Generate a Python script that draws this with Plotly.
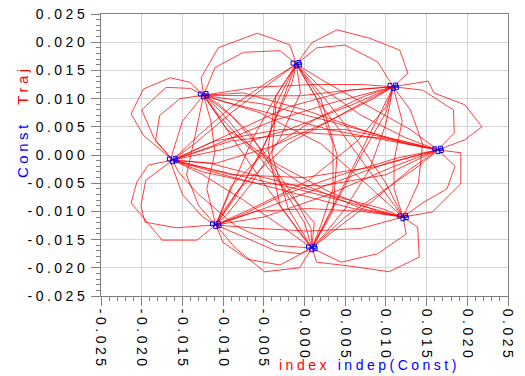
import plotly.graph_objects as go

# Ideal constellation points (symbol index 0..7)
const_x = [0.0164, 0.0109, -0.0010, -0.0124, -0.0162, -0.0109, 0.0009, 0.0121]
const_y = [0.0009, 0.0121, 0.0161, 0.0106, -0.0009, -0.0124, -0.0165, -0.0110]

# Received constellation samples (clusters around each symbol)
const_pts_x = [0.0160, 0.0167, 0.0164, 0.0168,
               0.0105, 0.0112, 0.0109, 0.0113,
               -0.0014, -0.0007, -0.0010, -0.0006,
               -0.0128, -0.0121, -0.0124, -0.0120,
               -0.0166, -0.0159, -0.0162, -0.0158,
               -0.0113, -0.0106, -0.0109, -0.0105,
               0.0005, 0.0012, 0.0009, 0.0013,
               0.0117, 0.0124, 0.0121, 0.0125]
const_pts_y = [0.0011, 0.0012, 0.0006, 0.0008,
               0.0123, 0.0124, 0.0118, 0.0120,
               0.0163, 0.0164, 0.0158, 0.0160,
               0.0108, 0.0109, 0.0103, 0.0105,
               -0.0007, -0.0006, -0.0012, -0.0010,
               -0.0122, -0.0121, -0.0127, -0.0125,
               -0.0163, -0.0162, -0.0168, -0.0166,
               -0.0108, -0.0107, -0.0113, -0.0111]

# Symbol sequence of the trajectory
symbols = [4, 3, 2, 1, 0, 7, 6, 3, 6, 2, 5, 6, 1, 4, 0, 5, 4, 1, 5, 2, 7, 3, 4, 5,
           0, 1, 2, 6, 7, 4, 3, 5, 6, 2, 3, 0, 4, 7, 1, 6, 5, 3, 1, 7, 0, 2, 4,
           1, 3, 6, 0, 3, 7, 5, 1, 4, 2, 0, 6, 4, 7, 2, 5, 7, 3, 0, 5, 1, 6, 3,
           5, 2, 6, 4, 0, 4]

# Trajectory samples between consecutive symbols
via_x = [
    [-0.0198, -0.0213, -0.0198, -0.0165, -0.0141],
    [-0.0127, -0.0106, -0.0058, -0.0040, -0.0018],
    [0.0009, 0.0040, 0.0080, 0.0117, 0.0127],
    [0.0152, 0.0159, 0.0197, 0.0218, 0.0197],
    [0.0192, 0.0192, 0.0157],
    [0.0139, 0.0141, 0.0104, 0.0056, 0.0015],
    [0.0012, -0.0026, -0.0067, -0.0105],
    [-0.0090, -0.0050, -0.0015, 0.0008],
    [0.0035, 0.0040, 0.0020],
    [-0.0025, -0.0045, -0.0075, -0.0100],
    [-0.0085, -0.0049, -0.0006],
    [0.0035, 0.0070, 0.0100],
    [0.0040, -0.0040, -0.0115],
    [-0.0090, 0.0000, 0.0090],
    [0.0100, 0.0025, -0.0050],
    [-0.0132, -0.0175, -0.0213, -0.0206, -0.0192],
    [-0.0100, -0.0020, 0.0060],
    [0.0055, -0.0020, -0.0080],
    [-0.0090, -0.0065, -0.0035],
    [0.0015, 0.0055, 0.0095],
    [0.0075, 0.0020, -0.0055],
    [-0.0153, -0.0178, -0.0183],
    [-0.0195, -0.0201, -0.0196, -0.0158],
    [-0.0050, 0.0030, 0.0110],
    [0.0184, 0.0183, 0.0145],
    [0.0090, 0.0050, 0.0015],
    [-0.0035, -0.0040, -0.0020],
    [0.0045, 0.0090, 0.0125],
    [0.0060, -0.0020, -0.0100],
    [-0.0185, -0.0200, -0.0170, -0.0140],
    [-0.0135, -0.0145, -0.0130],
    [-0.0075, -0.0035, -0.0005],
    [-0.0030, -0.0045, -0.0035],
    [-0.0030, -0.0075, -0.0110],
    [-0.0050, 0.0030, 0.0105],
    [0.0095, 0.0000, -0.0090],
    [-0.0100, -0.0010, 0.0070],
    [0.0140, 0.0145, 0.0130],
    [0.0090, 0.0060, 0.0030],
    [-0.0030, -0.0070, -0.0100],
    [-0.0120, -0.0110, -0.0115],
    [-0.0060, 0.0010, 0.0070],
    [0.0120, 0.0110, 0.0110],
    [0.0145, 0.0175, 0.0185],
    [0.0130, 0.0075, 0.0025],
    [-0.0040, -0.0090, -0.0135],
    [-0.0110, -0.0040, 0.0030, 0.0085],
    [0.0055, -0.0005, -0.0065],
    [-0.0100, -0.0065, -0.0030, -0.0005],
    [0.0050, 0.0095, 0.0140],
    [0.0105, 0.0030, -0.0045, -0.0100],
    [-0.0095, -0.0035, 0.0030, 0.0090],
    [0.0070, 0.0005, -0.0060],
    [-0.0065, 0.0005, 0.0065, 0.0100],
    [0.0055, -0.0020, -0.0095, -0.0140],
    [-0.0130, -0.0090, -0.0045],
    [0.0020, 0.0070, 0.0125],
    [0.0130, 0.0085, 0.0040],
    [-0.0025, -0.0075, -0.0125],
    [-0.0115, -0.0035, 0.0045, 0.0095],
    [0.0100, 0.0065, 0.0025],
    [-0.0005, -0.0030, -0.0065, -0.0095],
    [-0.0060, 0.0005, 0.0070],
    [0.0070, -0.0005, -0.0070, -0.0105],
    [-0.0075, 0.0000, 0.0070, 0.0125],
    [0.0115, 0.0045, -0.0025, -0.0075],
    [-0.0090, -0.0045, 0.0015, 0.0075],
    [0.0100, 0.0080, 0.0050, 0.0025],
    [0.0000, -0.0035, -0.0075, -0.0105],
    [-0.0150, -0.0165, -0.0150, -0.0125],
    [-0.0085, -0.0055, -0.0030, -0.0015],
    [0.0015, 0.0035, 0.0035, 0.0020],
    [-0.0035, -0.0085, -0.0130, -0.0155],
    [-0.0110, -0.0030, 0.0050, 0.0120],
    [0.0100, 0.0020, -0.0060, -0.0125],
]
via_y = [
    [0.0035, 0.0073, 0.0117, 0.0137, 0.0129],
    [0.0137, 0.0190, 0.0216, 0.0207, 0.0195],
    [0.0199, 0.0222, 0.0207, 0.0186, 0.0145],
    [0.0131, 0.0110, 0.0089, 0.0050, 0.0027],
    [0.0004, -0.0051, -0.0101],
    [-0.0128, -0.0181, -0.0207, -0.0197, -0.0190],
    [-0.0120, -0.0057, 0.0039, 0.0090],
    [0.0070, 0.0005, -0.0070, -0.0130],
    [-0.0100, 0.0000, 0.0100],
    [0.0105, 0.0030, -0.0050, -0.0100],
    [-0.0165, -0.0207, -0.0200],
    [-0.0095, 0.0000, 0.0075],
    [0.0095, 0.0060, 0.0015],
    [-0.0035, -0.0040, -0.0020],
    [-0.0015, -0.0055, -0.0095],
    [-0.0151, -0.0151, -0.0085, -0.0048, -0.0018],
    [0.0010, 0.0045, 0.0090],
    [0.0080, 0.0020, -0.0060],
    [-0.0060, 0.0025, 0.0105],
    [0.0100, 0.0020, -0.0060],
    [-0.0050, 0.0020, 0.0075],
    [0.0100, 0.0070, 0.0025],
    [-0.0045, -0.0090, -0.0119, -0.0129],
    [-0.0110, -0.0070, -0.0020],
    [0.0039, 0.0080, 0.0115],
    [0.0165, 0.0195, 0.0190],
    [0.0090, 0.0000, -0.0095],
    [-0.0190, -0.0175, -0.0140],
    [-0.0095, -0.0065, -0.0035],
    [0.0030, 0.0080, 0.0120, 0.0118],
    [0.0030, -0.0035, -0.0090],
    [-0.0145, -0.0170, -0.0175],
    [-0.0090, 0.0010, 0.0105],
    [0.0185, 0.0182, 0.0155],
    [0.0090, 0.0060, 0.0030],
    [0.0030, 0.0040, 0.0025],
    [-0.0030, -0.0060, -0.0090],
    [-0.0050, 0.0020, 0.0080],
    [0.0065, -0.0020, -0.0105],
    [-0.0195, -0.0185, -0.0155],
    [-0.0060, 0.0005, 0.0060],
    [0.0120, 0.0125, 0.0125],
    [0.0060, -0.0010, -0.0060],
    [-0.0085, -0.0060, -0.0020],
    [0.0045, 0.0090, 0.0130],
    [0.0130, 0.0075, 0.0020],
    [-0.0015, 0.0015, 0.0060, 0.0100],
    [0.0115, 0.0105, 0.0105],
    [0.0055, -0.0020, -0.0090, -0.0140],
    [-0.0110, -0.0065, -0.0020],
    [0.0025, 0.0045, 0.0075, 0.0095],
    [0.0045, -0.0015, -0.0065, -0.0100],
    [-0.0130, -0.0135, -0.0130],
    [-0.0095, -0.0045, 0.0025, 0.0085],
    [0.0115, 0.0085, 0.0035, 0.0005],
    [0.0035, 0.0085, 0.0130],
    [0.0120, 0.0070, 0.0030],
    [-0.0025, -0.0080, -0.0130],
    [-0.0130, -0.0080, -0.0035],
    [-0.0015, -0.0045, -0.0075, -0.0095],
    [-0.0050, 0.0025, 0.0100],
    [0.0110, 0.0030, -0.0050, -0.0105],
    [-0.0100, -0.0095, -0.0100],
    [-0.0095, -0.0050, 0.0015, 0.0070],
    [0.0110, 0.0080, 0.0045, 0.0020],
    [-0.0005, -0.0035, -0.0070, -0.0105],
    [-0.0055, 0.0010, 0.0065, 0.0105],
    [0.0055, -0.0025, -0.0095, -0.0140],
    [-0.0120, -0.0040, 0.0030, 0.0080],
    [0.0060, -0.0010, -0.0070, -0.0110],
    [-0.0075, 0.0000, 0.0080, 0.0130],
    [0.0100, 0.0020, -0.0060, -0.0125],
    [-0.0160, -0.0125, -0.0070, -0.0030],
    [0.0025, 0.0045, 0.0045, 0.0025],
    [-0.0035, -0.0055, -0.0050, -0.0030],
]

tick_vals = [-0.025, -0.020, -0.015, -0.010, -0.005, 0.0, 0.005, 0.010, 0.015, 0.020, 0.025]
tick_labels = ["-0.025", "-0.020", "-0.015", "-0.010", "-0.005", "0.000",
               "0.005", "0.010", "0.015", "0.020", "0.025"]

# Build trajectory from the symbol sequence and the read samples
traj_x, traj_y = [], []
for i in range(len(symbols) - 1):
    s = symbols[i]
    traj_x.append(const_x[s])
    traj_y.append(const_y[s])
    traj_x.extend(via_x[i])
    traj_y.extend(via_y[i])
traj_x.append(const_x[symbols[-1]])
traj_y.append(const_y[symbols[-1]])

spaced = ['<span style="letter-spacing:3.5px">%s</span>' % t for t in tick_labels]

fig = go.Figure()
fig.add_trace(go.Scatter(x=traj_x, y=traj_y, mode="lines", name="Traj",
                         line=dict(color="rgba(255,0,0,0.75)", width=1)))
fig.add_trace(go.Scatter(x=const_pts_x, y=const_pts_y, mode="markers", name="Const",
                         marker=dict(symbol="square-open", size=4, color="blue",
                                     line=dict(width=1, color="blue"))))

axis_common = dict(
    range=[-0.025, 0.025], tickmode="array", tickvals=tick_vals, ticktext=spaced,
    ticks="outside", ticklen=9, tickcolor="#808080", tickwidth=1,
    showgrid=True, gridcolor="#d4d4d4", gridwidth=1,
    showline=True, linecolor="#808080", linewidth=1, mirror=True,
    zeroline=False, automargin=False, ticklabeloverflow="allow",
    minor=dict(tickmode="linear", tick0=0, dtick=0.001, ticks="outside",
               ticklen=4, tickcolor="#808080", showgrid=False),
    tickfont=dict(family="Liberation Sans, Arial", size=14, color="black"),
)
fig.update_xaxes(**axis_common, tickangle=90)
fig.update_yaxes(**axis_common)

fig.add_annotation(
    xref="paper", yref="paper", x=-0.194, y=0.617, xanchor="center", yanchor="middle",
    textangle=-90, showarrow=False,
    text='<span style="color:blue;letter-spacing:3.5px">Const</span>'
         '&nbsp;&nbsp;&nbsp;&nbsp;<span style="color:red;letter-spacing:3.5px">Traj</span>',
    font=dict(family="Liberation Sans, Arial", size=15),
)
fig.add_annotation(
    xref="paper", yref="paper", x=0.66, y=-0.245, xanchor="center", yanchor="middle",
    showarrow=False,
    text='<span style="color:red;letter-spacing:3.5px">index</span>'
         '&nbsp;&nbsp;<span style="color:blue;letter-spacing:3.5px">indep(Const)</span>',
    font=dict(family="Liberation Sans, Arial", size=14),
)

fig.update_layout(
    width=525, height=376, showlegend=False,
    margin=dict(l=93, r=25, t=6, b=88),
    paper_bgcolor="white", plot_bgcolor="white",
)
fig.write_html("out.html")
